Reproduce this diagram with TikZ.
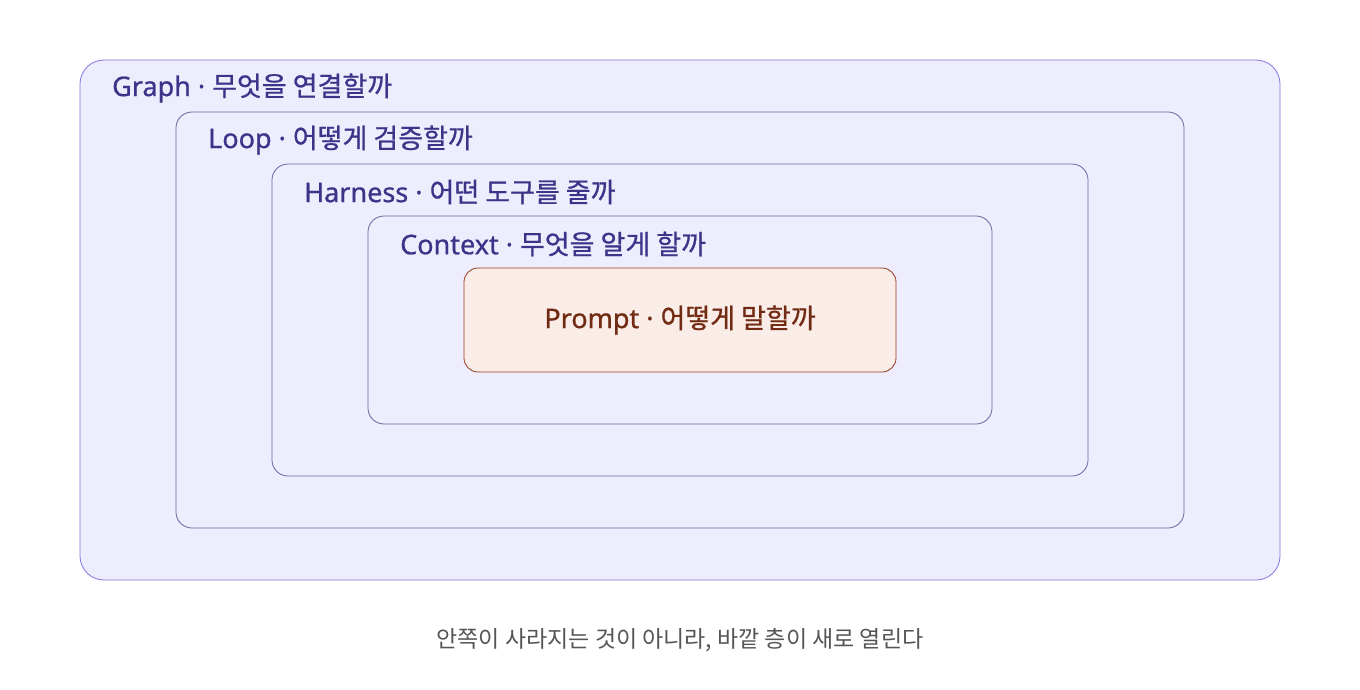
\documentclass[tikz,border=0pt]{standalone}
\usepackage{fontspec}
\setmainfont{Noto Sans}[FakeBold=0.8]
\newfontfamily\kr{Noto Sans CJK KR}[FakeBold=0.8]
\newfontfamily\krcap{Noto Sans CJK KR}
\definecolor{lav}{HTML}{EEEDFE}
\definecolor{lavline}{HTML}{7F77DD}
\definecolor{lavin}{HTML}{6A649E}
\definecolor{lavtxt}{HTML}{3C3489}
\definecolor{pfill}{HTML}{FAECE7}
\definecolor{pline}{HTML}{993C1D}
\definecolor{ptxt}{HTML}{712B13}
\definecolor{captxt}{HTML}{555555}
\newcommand{\lab}[2]{#1 · {\kr #2}}
\begin{document}
\begin{tikzpicture}[x=1pt,y=-1pt,
  layer/.style={draw=lavin,fill=lav,rounded corners=16pt,line width=0.8pt},
  lbl/.style={anchor=west,text=lavtxt,font=\fontsize{27}{31}\selectfont,inner sep=0pt},
]
\useasboundingbox (0,0) rectangle (1360,690);
\fill[white] (0,0) rectangle (1360,690);
\draw[layer,draw=lavline,rounded corners=24pt] (80,60) rectangle (1280,580);
\draw[layer] (176,112) rectangle (1184,528);
\draw[layer] (272,164) rectangle (1088,476);
\draw[layer] (368,216) rectangle (992,424);
\node[draw=pline,fill=pfill,rounded corners=14pt,line width=0.8pt,minimum width=432pt,minimum height=104pt,text=ptxt,font=\fontsize{27}{31}\selectfont] (prompt) at (680,320) {\raisebox{-2pt}{\lab{Prompt}{어떻게 말할까}}};
\node[lbl] (lg) at (112,88) {\lab{Graph}{무엇을 연결할까}};
\node[lbl] (ll) at (208,140) {\lab{Loop}{어떻게 검증할까}};
\node[lbl] (lh) at (304,192) {\lab{Harness}{어떤 도구를 줄까}};
\node[lbl] (lc) at (400,244) {\lab{Context}{무엇을 알게 할까}};
\node[text=captxt,font=\krcap\fontsize{23}{27}\selectfont] (cap) at (680,640) {안쪽이 사라지는 것이 아니라, 바깥 층이 새로 열린다};
\end{tikzpicture}
\end{document}
